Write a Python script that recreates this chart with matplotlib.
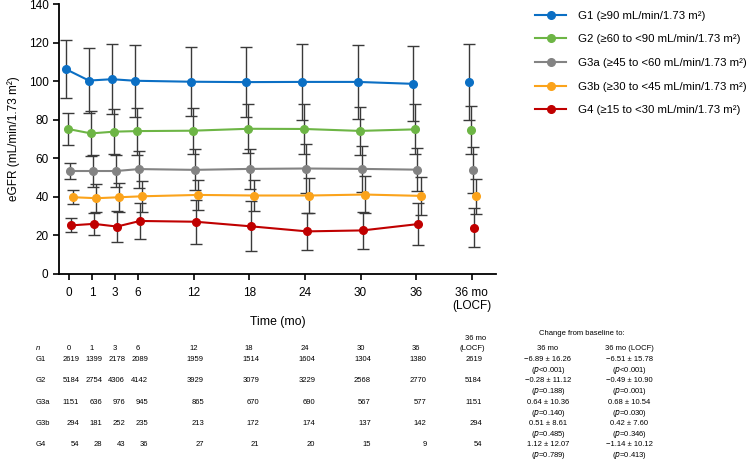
import matplotlib
matplotlib.use('agg')
import matplotlib.pyplot as plt
import matplotlib.transforms as mtransforms

plt.rcParams['font.family'] = ['Liberation Sans', 'DejaVu Sans']

# data
time_labels = ['0', '1', '3', '6', '12', '18', '24', '30', '36', '36 mo\n(LOCF)']
groups = ['G1', 'G2', 'G3a', 'G3b', 'G4']
legend_labels = [
    'G1 (≥90 mL/min/1.73 m²)',
    'G2 (≥60 to <90 mL/min/1.73 m²)',
    'G3a (≥45 to <60 mL/min/1.73 m²)',
    'G3b (≥30 to <45 mL/min/1.73 m²)',
    'G4 (≥15 to <30 mL/min/1.73 m²)',
]
mean_g1 = [106.2, 100.3, 101.0, 100.2, 99.7, 99.5, 99.6, 99.6, 98.6, 99.8]
sd_g1 = [15.0, 16.8, 18.2, 18.6, 17.8, 18.0, 19.5, 19.4, 19.4, 19.7]
mean_g2 = [75.2, 72.9, 73.8, 74.1, 74.3, 75.3, 75.2, 74.2, 75.0, 74.7]
sd_g2 = [8.2, 11.6, 11.5, 12.2, 11.9, 12.7, 12.9, 12.5, 13.0, 12.5]
mean_g3a = [53.4, 53.4, 53.4, 54.4, 54.0, 54.5, 54.7, 54.5, 54.1, 54.0]
sd_g3a = [4.0, 8.2, 8.5, 9.6, 10.6, 10.3, 12.6, 12.0, 11.0, 12.0]
mean_g3b = [39.8, 39.3, 39.8, 40.3, 41.0, 40.7, 40.7, 41.2, 40.5, 40.2]
sd_g3b = [3.7, 7.4, 7.4, 8.0, 7.8, 8.0, 9.0, 9.8, 10.0, 8.9]
mean_g4 = [25.2, 26.0, 24.6, 27.5, 27.1, 24.7, 22.1, 22.6, 25.9, 24.0]
sd_g4 = [3.6, 5.7, 8.0, 9.5, 11.5, 13.0, 9.6, 9.4, 11.0, 10.0]

n_g1 = ['2619', '1399', '2178', '2089', '1959', '1514', '1604', '1304', '1380', '2619']
n_g2 = ['5184', '2754', '4306', '4142', '3929', '3079', '3229', '2568', '2770', '5184']
n_g3a = ['1151', '636', '976', '945', '865', '670', '690', '567', '577', '1151']
n_g3b = ['294', '181', '252', '235', '213', '172', '174', '137', '142', '294']
n_g4 = ['54', '28', '43', '36', '27', '21', '20', '15', '9', '54']

chg_36 = ['−6.89 ± 16.26', '−0.28 ± 11.12', '0.64 ± 10.36', '0.51 ± 8.61', '1.12 ± 12.07']
p_36 = ['<0.001', '=0.188', '=0.140', '=0.485', '=0.789']
chg_locf = ['−6.51 ± 15.78', '−0.49 ± 10.90', '0.68 ± 10.54', '0.42 ± 7.60', '−1.14 ± 10.12']
p_locf = ['<0.001', '=0.001', '=0.030', '=0.346', '=0.413']

means = [mean_g1, mean_g2, mean_g3a, mean_g3b, mean_g4]
sds = [sd_g1, sd_g2, sd_g3a, sd_g3b, sd_g4]
ns = [n_g1, n_g2, n_g3a, n_g3b, n_g4]
colors = ['#0b6fc4', '#6db545', '#838383', '#fba31b', '#c00000']

# axis positions: 0-6 mo compressed, then evenly spaced
x_pos = [0, 1, 2, 3, 5.42, 7.84, 10.26, 12.68, 15.1, 17.52]
dodge = [-0.13, -0.04, 0.05, 0.2, 0.09]

px = 1 / 100
fig = plt.figure(figsize=(755 * px, 460 * px), dpi=100, facecolor='white')
ax = fig.add_axes([59 / 755, 1 - 274 / 460, (496 - 59) / 755, 270 / 460])

handles = []
for i in range(len(groups)):
    xs = [x + dodge[i] for x in x_pos]
    ax.errorbar(xs, means[i], yerr=sds[i], fmt='none', ecolor='#3a3a3a',
                elinewidth=1.0, capsize=4.5, capthick=1.0, zorder=1)
    line, = ax.plot(xs[:-1], means[i][:-1], '-o', color=colors[i], lw=1.5,
                    ms=5.5, zorder=3 + i * 0.1)
    ax.plot(xs[-1:], means[i][-1:], 'o', color=colors[i], ms=5.5, zorder=3)
    handles.append(line)

ax.set_xlim(-0.43, 18.57)
ax.set_ylim(0, 140)
ax.set_yticks(range(0, 141, 20))
ax.set_xticks(x_pos)
ax.set_xticklabels(time_labels)
ax.tick_params(labelsize=8.5, width=1.2, length=4, color='black')
ax.tick_params(axis='x', pad=5)
for s in ['top', 'right']:
    ax.spines[s].set_visible(False)
for s in ['left', 'bottom']:
    ax.spines[s].set_linewidth(1.3)
ax.set_ylabel('eGFR (mL/min/1.73 m²)', fontsize=8.5, labelpad=6)
ax.set_xlabel('Time (mo)', fontsize=8.8, labelpad=3)

fig.legend(handles, legend_labels, loc='upper left', bbox_to_anchor=(530 / 755, 1 - 6 / 460),
           frameon=False, fontsize=8.2, handlelength=2.8, labelspacing=1.2, handletextpad=1.0,
           borderaxespad=0)

# table under the chart
trans = mtransforms.blended_transform_factory(ax.transData, fig.transFigure)
fs = 5.5


def fy(y):
    return 1 - y / 460


fig.text(36 / 755, fy(349), 'n', style='italic', fontsize=fs, va='center')
for j, lab in enumerate(time_labels[:-1]):
    fig.text(x_pos[j], fy(349), lab, fontsize=fs, ha='center', va='center', transform=trans)
fig.text(x_pos[-1] + 0.15, fy(338), '36 mo', fontsize=fs, ha='center', va='center', transform=trans)
fig.text(x_pos[-1], fy(349), '(LOCF)', fontsize=fs, ha='center', va='center', transform=trans)

row_y = [359, 380, 402, 423, 444]
for i, g in enumerate(groups):
    fig.text(36 / 755, fy(row_y[i]), g, fontsize=fs, va='center')
    for j in range(len(x_pos)):
        fig.text(x_pos[j] + 0.45, fy(row_y[i]), ns[i][j], fontsize=fs, ha='right',
                 va='center', transform=trans)
    fig.text(548 / 755, fy(row_y[i]), chg_36[i], fontsize=fs, ha='center', va='center')
    fig.text(548 / 755, fy(row_y[i] + 11), '($\\it{p}$' + p_36[i] + ')', fontsize=fs,
             ha='center', va='center')
    fig.text(629 / 755, fy(row_y[i]), chg_locf[i], fontsize=fs, ha='center', va='center')
    fig.text(629 / 755, fy(row_y[i] + 11), '($\\it{p}$' + p_locf[i] + ')', fontsize=fs,
             ha='center', va='center')

fig.text(582 / 755, fy(333), 'Change from baseline to:', fontsize=fs, ha='center', va='center')
fig.text(548 / 755, fy(349), '36 mo', fontsize=fs, ha='center', va='center')
fig.text(629 / 755, fy(349), '36 mo (LOCF)', fontsize=fs, ha='center', va='center')

fig.savefig('out.png', dpi=100, facecolor='white')
